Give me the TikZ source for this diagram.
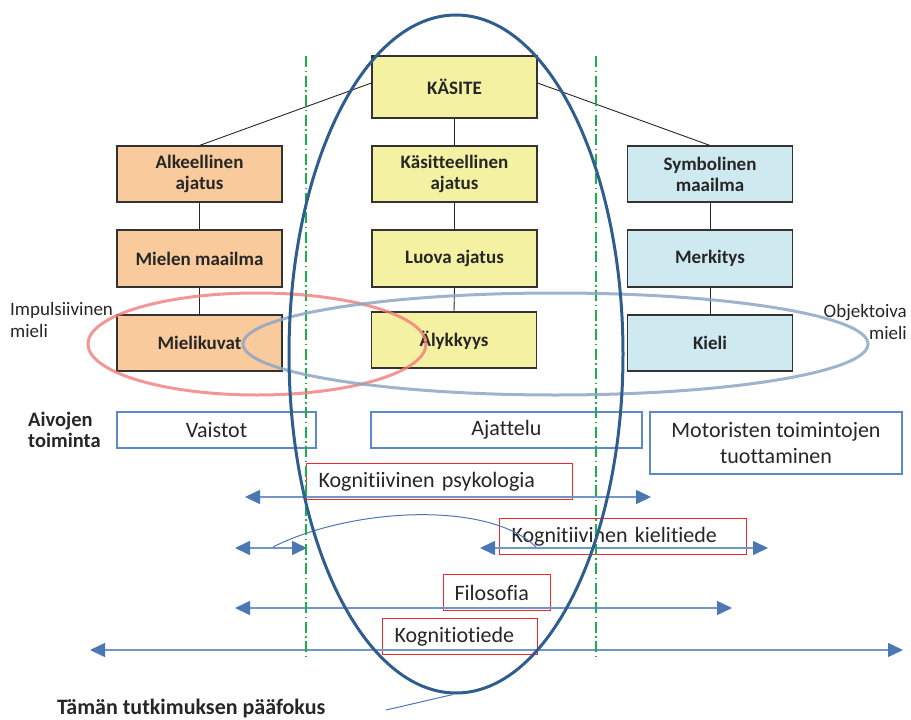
\documentclass[tikz,border=0pt]{standalone}
\usepackage{fontspec}
\setmainfont{Carlito}[Ligatures=NoCommon]
\usetikzlibrary{arrows.meta,shapes.geometric}

\definecolor{orangefill}{HTML}{F9CB9C}
\definecolor{yellowfill}{HTML}{F4F2A2}
\definecolor{bluefill}{HTML}{CFE9F0}
\definecolor{focusblue}{HTML}{2F5D8E}
\definecolor{pinkring}{HTML}{F07C7C}
\definecolor{grayring}{HTML}{8FA6C4}
\definecolor{guidegreen}{HTML}{1DB04A}
\definecolor{frameblue}{HTML}{5B8AC8}
\definecolor{framered}{HTML}{F0282C}
\definecolor{lineblue}{HTML}{7396C9}
\definecolor{headblue}{HTML}{4A78B5}
\definecolor{inktext}{HTML}{262626}

\tikzset{
  concept/.style={draw=black!80, line width=1.1pt, minimum width=165pt,
    minimum height=56pt, inner sep=0pt, align=center, text=inktext,
    font=\bfseries\fontsize{19}{21}\selectfont},
  orangebox/.style={concept, fill=orangefill},
  yellowbox/.style={concept, fill=yellowfill},
  cyanbox/.style={concept, fill=bluefill},
  tree/.style={draw=black!85, line width=0.9pt},
  brainbox/.style={draw=frameblue, line width=1.1pt, minimum height=36pt,
    inner sep=0pt, align=center, text=inktext,
    font=\fontsize{22}{26}\selectfont},
  fieldbox/.style={draw=framered, line width=1.1pt, minimum height=36pt,
    inner ysep=0pt, inner xsep=12pt, anchor=north west, align=left,
    text=inktext, font=\fontsize{22}{26}\selectfont},
  sidelabel/.style={inner sep=0pt, text=inktext,
    font=\fontsize{19}{22}\selectfont},
  boldlabel/.style={inner sep=0pt, text=inktext,
    font=\bfseries\fontsize{20.5}{21}\selectfont},
  span/.style={draw=lineblue, line width=1.5pt,
    {Triangle[length=15pt,width=14pt,color=headblue]}-{Triangle[length=15pt,width=14pt,color=headblue]}},
  guide/.style={draw=guidegreen, line width=2pt,
    dash pattern=on 11pt off 3.5pt on 1.5pt off 3.5pt},
  ring/.style={ellipse, inner sep=0pt, line width=3pt}
}

\begin{document}
\begin{tikzpicture}[x=1pt,y=-1pt]
\useasboundingbox (0,0) rectangle (911,720);

% concept hierarchy
\node[yellowbox, minimum height=62pt] (kasite) at (454.5,87) {KÄSITE};
\node[orangebox] (alk)    at (199.5,174)   {Alkeellinen\\ajatus};
\node[yellowbox] (kasajt) at (454.5,174)   {Käsitteellinen\\ajatus};
\node[cyanbox]   (symb)   at (710,174)     {Symbolinen\\maailma};
\node[orangebox, minimum height=57pt] (mielen) at (199.5,258.5) {Mielen maailma};
\node[yellowbox, minimum height=57pt] (luova)  at (454.5,258.5) {Luova ajatus};
\node[cyanbox,   minimum height=57pt] (merk)   at (710,258.5)   {Merkitys};
\node[orangebox] (kuvat)  at (199.5,343)   {Mielikuvat};
\node[yellowbox] (aly)    at (454,340)     {Älykkyys};
\node[cyanbox]   (kieli)  at (710,343)     {Kieli};

\draw[tree] ([yshift=4pt]kasite.west) -- (alk.north);
\draw[tree] ([yshift=4pt]kasite.east) -- (symb.north);
\draw[tree] (kasite.south) -- (kasajt.north);
\draw[tree] (alk.south) -- (mielen.north);
\draw[tree] (mielen.south) -- (kuvat.north);
\draw[tree] (kasajt.south) -- (luova.north);
\draw[tree] (luova.south) -- (aly.north);
\draw[tree] (symb.south) -- (merk.north);
\draw[tree] (merk.south) -- (kieli.north);

% side labels
\node[sidelabel, anchor=west, align=left] (impuls) at (10,320) {Impulsiivinen\\mieli};
\node[sidelabel, anchor=east, align=right] (objekt) at (907,322) {Objektoiva\\mieli};
\node[boldlabel, anchor=west, align=left] (aivot) at (28,430) {Aivojen\\toiminta};

% brain function row
\node[brainbox, minimum width=199pt] (vaistot)  at (216.5,430) {Vaistot};
\node[brainbox, minimum width=271pt] (ajattelu) at (506.5,430) {Ajattelu};
\node[brainbox, minimum width=252pt, minimum height=62pt] (motor) at (776,443)
  {Motoristen toimintojen\\tuottaminen};

% disciplines
\node[fieldbox, text width=242pt] (psyk)  at (306,463) {Kognitiivinen psykologia};
\node[fieldbox, text width=223pt] (kiel)  at (499,518) {Kognitiivinen kielitiede};
\node[fieldbox, text width=85pt, inner xsep=11pt] (filo) at (443,574) {Filosofia};
\node[fieldbox, text width=131pt] (kogt)  at (382,618) {Kognitiotiede};

% spans of the disciplines
\coordinate (p1) at (245,497);  \coordinate (p2) at (651,497);
\coordinate (k1) at (235,548);  \coordinate (k2) at (307,548);
\coordinate (k3) at (480,548);  \coordinate (k4) at (768,548);
\coordinate (f1) at (235,608);  \coordinate (f2) at (732,608);
\coordinate (t1) at (90,650);   \coordinate (t2) at (903,650);
\draw[span] (p1) -- (p2);
\draw[span] (k1) -- (k2);
\draw[span] (k3) -- (k4);
\draw[span] (f1) -- (f2);
\draw[span] (t1) -- (t2);

% link between the two parts of the linguistics span
\coordinate (c1) at (273,547);
\coordinate (c2) at (536,547);
\draw[draw=headblue, line width=1pt] (c1) .. controls (350,508) and (488,500) .. (c2);

% column guides
\coordinate (g1) at (306,56);  \coordinate (g2) at (306,657);
\coordinate (g3) at (596,56);  \coordinate (g4) at (596,657);
\draw[guide] (g1) -- (g2);
\draw[guide] (g3) -- (g4);

% minds
\node[ring, draw=pinkring, draw opacity=0.8, minimum width=338pt, minimum height=102pt]
  (impring) at (257,344) {};
\node[ring, draw=grayring, draw opacity=0.85, minimum width=625pt, minimum height=102pt]
  (objring) at (555.5,344) {};

% main focus
\node[ring, draw=focusblue, minimum width=334pt, minimum height=678pt] (focus) at (456,354) {};
\node[boldlabel, anchor=west, font=\bfseries\fontsize{22}{24}\selectfont] (focuslabel)
  at (57,709) {Tämän tutkimuksen pääfokus};
\coordinate (focustip) at (386,710);
\draw[draw=headblue, line width=1pt] (focustip) -- ([xshift=-3pt]focus.south);
\end{tikzpicture}
\end{document}
